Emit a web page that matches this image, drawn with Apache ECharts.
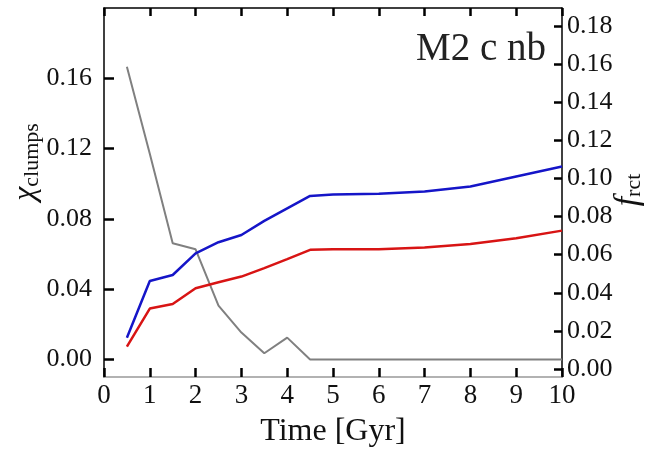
<!DOCTYPE html>
<html>
<head>
<meta charset="utf-8">
<script src="https://cdn.jsdelivr.net/npm/echarts@6/dist/echarts.min.js"></script>
<style>html,body{margin:0;padding:0;background:#fff;}#c{width:653px;height:451px;}</style>
</head>
<body>
<div id="c"></div>
<script>
// Data
var timeGyr = [0.5, 1.0, 1.5, 2.0, 2.5, 3.0, 3.5, 4.0, 4.5, 5, 6, 7, 8, 9, 10];
var grayClumps = [0.1666, 0.117, 0.0661, 0.0627, 0.0306, 0.0153, 0.0035, 0.0124, 0.0, 0.0, 0.0, 0.0, 0.0, 0.0, 0.0];
var blueRct = [0.0164, 0.0462, 0.0493, 0.0607, 0.0665, 0.0703, 0.0777, 0.0843, 0.0908, 0.0915, 0.0920, 0.0931, 0.0957, 0.1010, 0.1062];
var redRct = [0.0117, 0.0317, 0.0341, 0.0424, 0.0455, 0.0485, 0.0529, 0.0576, 0.0625, 0.0628, 0.0628, 0.0637, 0.0656, 0.0686, 0.0726];
var leftTicks = [0, 0.04, 0.08, 0.12, 0.16];
var rightTicks = [0, 0.02, 0.04, 0.06, 0.08, 0.10, 0.12, 0.14, 0.16, 0.18];

function pairs(xs, ys) { return xs.map(function (x, i) { return [x, ys[i]]; }); }

var FONT = '"Liberation Serif", "DejaVu Serif", serif';
var chart = echarts.init(document.getElementById('c'));
chart.setOption({
  animation: false,
  backgroundColor: '#fff',
  grid: { left: 104, right: 91, top: 8, bottom: 74, containLabel: false, outerBoundsMode: 'none' },
  xAxis: [{
    type: 'value', min: 0, max: 10, interval: 1, position: 'bottom',
    axisLine: { show: true, onZero: false, lineStyle: { color: '#999', width: 1.5 } },
    axisTick: { inside: true, length: 9, lineStyle: { color: '#000', width: 2.5 } },
    axisLabel: { fontFamily: FONT, fontSize: 27, color: '#111', margin: 5 },
    splitLine: { show: false },
    name: 'Time [Gyr]', nameLocation: 'middle', nameGap: 39,
    nameTextStyle: { fontFamily: FONT, fontSize: 32, color: '#111' }
  }, {
    type: 'value', min: 0, max: 10, interval: 1, position: 'top',
    axisLine: { show: true, onZero: false, lineStyle: { color: '#000', width: 1.5 } },
    axisTick: { inside: true, length: 8, lineStyle: { color: '#000', width: 2.5 } },
    axisLabel: { show: false }, splitLine: { show: false }
  }],
  yAxis: [{
    type: 'value', min: -0.01, max: 0.2, position: 'left',
    axisLine: { show: true, onZero: false, lineStyle: { color: '#000', width: 1.5 } },
    axisTick: { inside: true, length: 10, customValues: leftTicks, lineStyle: { color: '#000', width: 2.5 } },
    axisLabel: { customValues: leftTicks, fontFamily: FONT, fontSize: 26, color: '#111', margin: 12,
      formatter: function (v) { return v.toFixed(2); } },
    splitLine: { show: false }
  }, {
    type: 'value', min: -0.0042, max: 0.1894, position: 'right',
    axisLine: { show: true, onZero: false, lineStyle: { color: '#000', width: 1.5 } },
    axisTick: { inside: true, length: 8, customValues: rightTicks, lineStyle: { color: '#000', width: 2.5 } },
    axisLabel: { customValues: rightTicks, fontFamily: FONT, fontSize: 26, color: '#111', margin: 5,
      formatter: function (v) { return v.toFixed(2); } },
    splitLine: { show: false }
  }],
  graphic: [
    { type: 'text', left: 416, top: 30, z: 10,
      style: { text: 'M2 c nb', font: '39px ' + FONT, fill: '#222' } },
    { type: 'text', x: 26, y: 162, rotation: Math.PI / 2, z: 10,
      style: { text: '{a|χ}{b|clumps}', align: 'center', verticalAlign: 'middle',
        rich: { a: { fontFamily: FONT, fontSize: 32, fill: '#111', fontStyle: 'italic' },
                b: { fontFamily: FONT, fontSize: 22, fill: '#111', padding: [12, 0, 0, 0] } } } },
    { type: 'text', x: 628, y: 190, rotation: Math.PI / 2, z: 10,
      style: { text: '{a|f}{b|rct}', align: 'center', verticalAlign: 'middle',
        rich: { a: { fontFamily: FONT, fontSize: 34, fill: '#111', fontStyle: 'italic' },
                b: { fontFamily: FONT, fontSize: 22, fill: '#111', padding: [12, 0, 0, 0] } } } }
  ],
  series: [{
    type: 'line', yAxisIndex: 0, data: pairs(timeGyr, grayClumps), showSymbol: false,
    lineStyle: { color: '#808080', width: 2 }, z: 2
  }, {
    type: 'line', yAxisIndex: 1, data: pairs(timeGyr, blueRct), showSymbol: false,
    lineStyle: { color: '#1515c8', width: 2.5 }, z: 3
  }, {
    type: 'line', yAxisIndex: 1, data: pairs(timeGyr, redRct), showSymbol: false,
    lineStyle: { color: '#d81414', width: 2.5 }, z: 3
  }]
});
</script>
</body>
</html>
